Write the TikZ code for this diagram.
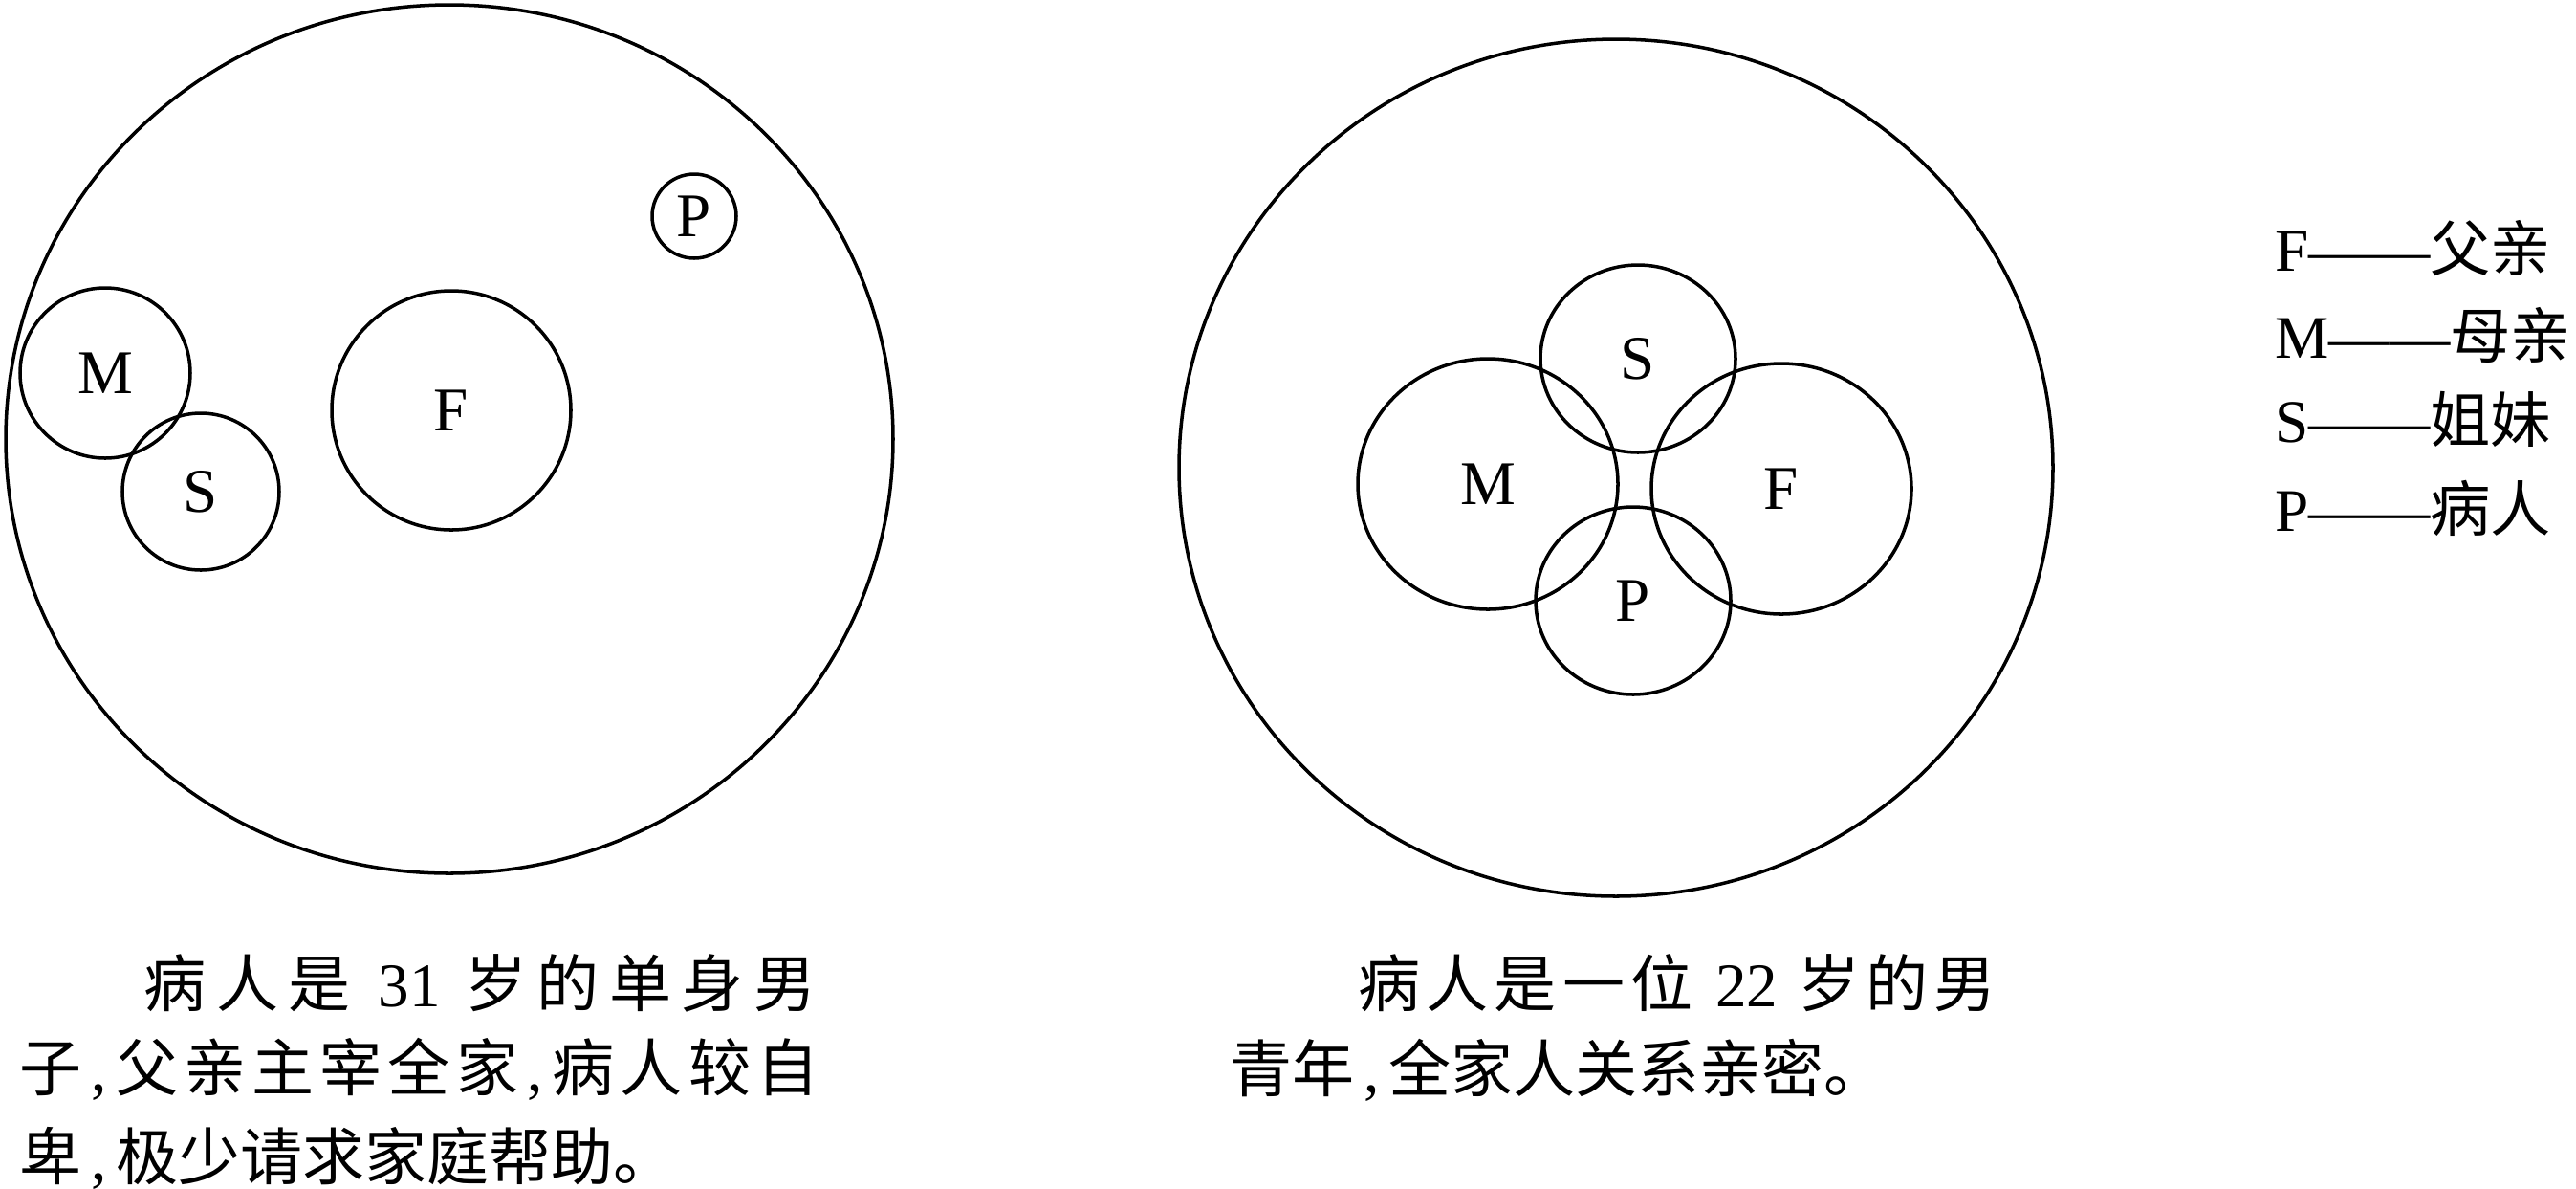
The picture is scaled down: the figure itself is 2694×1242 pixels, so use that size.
\documentclass[tikz,border=0pt]{standalone}
\usepackage{fontspec}
\setmainfont{Noto Sans CJK SC}
\newfontfamily\lat{Liberation Serif}
\newfontfamily\cjkw{Noto Sans CJK SC}[LetterSpace=9.4]
\newfontfamily\cjkx{Noto Sans CJK SC}[LetterSpace=16]
\usetikzlibrary{shapes.geometric}
\newcommand\dou{\makebox[0.55em]{\lat ,}}

\begin{document}
\begin{tikzpicture}[x=0.1mm, y=-0.1mm,
        ring/.style 2 args={ellipse, draw, line width=1pt, inner sep=0pt,
                minimum width=#1*0.2mm, minimum height=#2*0.2mm,
                font=\lat\fontsize{18.5pt}{22pt}\selectfont},
        captxt/.style={anchor=base west, inner sep=0pt, font=\fontsize{18.5pt}{22pt}\selectfont},
        keytxt/.style={anchor=base west, inner sep=0pt, font=\fontsize{18pt}{22pt}\selectfont}]
        \useasboundingbox (0,0) rectangle (2694,1242);
        % left family
        \node (famL) [ring={464}{454}] at (470,459) {};
        \node (pL) [ring={44}{44}] at (726,226) {P};
        \node (mL) [ring={89}{89}] at (110,390) {M};
        \node (sL) [ring={82}{82}] at (210,514) {S};
        \node (fL) [ring={125}{125}] at (472,429) {F};
        % right family
        \node (famR) [ring={457}{448}] at (1690,489) {};
        \node (sR) [ring={102}{98}] at (1713,375) {S};
        \node (mR) [ring={136}{131}] at (1556,506) {M};
        \node (fR) [ring={136}{131}] at (1863,511) {F};
        \node (pR) [ring={102}{98}] at (1708,628) {P};
        % key
        \node (kF) [keytxt] at (2379,283) {{\lat F——}父亲};
        \node (kM) [keytxt] at (2379,374) {{\lat M——}母亲};
        \node (kS) [keytxt] at (2379,462) {{\lat S——}姐妹};
        \node (kP) [keytxt] at (2379,555) {{\lat P——}病人};
        % captions
        \node (capL1) [captxt] at (150,1052) {\cjkx 病人是\hspace{2.9mm}{\lat 31}\hspace{2.6mm}岁的单身男};
        \node (capL2) [captxt] at (20,1140) {\cjkw 子\dou 父亲主宰全家\dou 病人较自};
        \node (capL3) [captxt] at (20,1233) {卑\dou 极少请求家庭帮助。};
        \node (capR1) [captxt] at (1420,1052) {\cjkw 病人是一位\hspace{2.4mm}{\lat 22}\hspace{2.1mm}岁的男};
        \node (capR2) [captxt] at (1286,1141) {青年\dou 全家人关系亲密。};
\end{tikzpicture}
\end{document}
